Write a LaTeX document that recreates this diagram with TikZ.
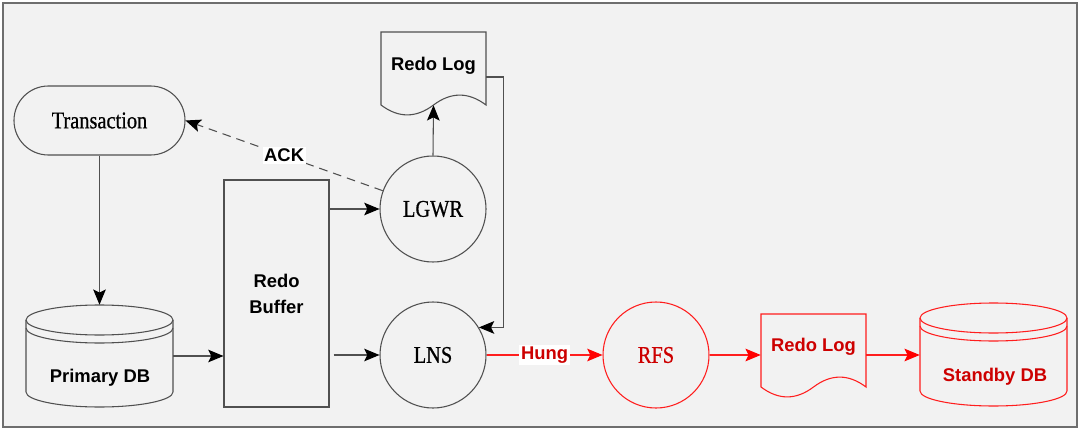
\documentclass[tikz,border=0pt]{standalone}
\usepackage{fontspec}
\setmainfont{Liberation Serif}
\newfontfamily\serifn[FakeStretch=0.85,FakeBold=0.6]{Liberation Serif}
\newfontfamily\sansf{Liberation Sans}
\usetikzlibrary{arrows.meta,calc}
\definecolor{lineg}{RGB}{80,80,80}
\definecolor{frameg}{RGB}{110,110,110}
\definecolor{bgg}{RGB}{242,242,242}
\definecolor{redl}{RGB}{255,30,30}
\definecolor{redt}{RGB}{205,0,0}
\begin{document}
\begin{tikzpicture}[x=0.75pt,y=-0.75pt,
  line/.style={draw=lineg, line width=0.8pt},
  rline/.style={draw=redl, line width=0.8pt},
  tip/.style={-{Stealth[length=11.5pt,width=9.5pt,inset=2.4pt,black]}},
  rtip/.style={-{Stealth[length=11.5pt,width=9.5pt,inset=2.4pt,red]}},
  arr/.style={line, tip, fill=none},
  rarr/.style={rline, rtip},
  serifl/.style={font=\serifn\fontsize{18}{20}\selectfont},
  lbl/.style={font=\sansf\bfseries\fontsize{13.8}{19.5}\selectfont},
  proc/.style={circle, line, minimum size=79.5pt, inner sep=0pt, serifl},
  rproc/.style={circle, rline, minimum size=79.5pt, inner sep=0pt, serifl, text=redt},
  docbox/.style={inner sep=0pt, minimum width=78.75pt, minimum height=63pt},
  cylbox/.style={inner sep=0pt, minimum width=110.25pt, minimum height=76.5pt},
  tagbox/.style={lbl, fill=white, inner sep=1.2pt}
]
\useasboundingbox (0,0) rectangle (1080,431);
\fill[white] (0,0) rectangle (1080,431);
\draw[draw=frameg, fill=bgg, line width=1.3pt] (3,3) rectangle (1077,427);

% Transaction
\node[line, rounded corners=25.8pt, minimum width=128.25pt, minimum height=51.75pt, inner sep=0pt, serifl] (tran) at (99.5,120.5) {Transaction};

% Primary DB cylinder
\node[cylbox] (pdb) at (99.5,356) {};
\draw[line] (26,320) -- (26,392) arc[start angle=180,end angle=360,x radius=55.125pt,y radius=11.25pt] -- (173,320);
\draw[line] (99.5,320) ellipse [x radius=55.125pt, y radius=11.25pt];
\draw[line] (26,328) arc[start angle=180,end angle=360,x radius=55.125pt,y radius=11.25pt];
\node[lbl] (pdbt) at (100,378) {Primary DB};

% Redo Buffer
\node[line, minimum width=78.75pt, minimum height=170.25pt, inner sep=0pt, align=center, lbl] (buf) at (276.5,293.5) {Redo\\Buffer};

% LGWR, LNS
\node[proc] (lgwr) at (433,209) {LGWR};
\node[proc] (lns) at (433,355) {LNS};

% Redo Log (top)
\node[docbox] (rlog) at (433.5,74) {};
\begin{scope}[shift={(381,32)}]
\draw[line] (0,0) -- (105,0) -- (105,73) .. controls (87.5,59.8) and (70,59.8) .. (52.5,73) .. controls (35,86.2) and (17.5,86.2) .. (0,73) -- cycle;
\end{scope}
\node[lbl] (rlogt) at (433.5,66) {Redo Log};
\coordinate (rlogb) at ($(rlog.south)+(0,-11)$);

% RFS
\node[rproc] (rfs) at (656,355) {RFS};

% Redo Log (red)
\node[docbox] (rlog2) at (813.5,356) {};
\begin{scope}[shift={(761,314)}]
\draw[rline] (0,0) -- (105,0) -- (105,73) .. controls (87.5,59.8) and (70,59.8) .. (52.5,73) .. controls (35,86.2) and (17.5,86.2) .. (0,73) -- cycle;
\end{scope}
\node[lbl, text=redt] (rlog2t) at (813.5,347) {Redo Log};

% Standby DB
\node[cylbox] (sdb) at (993.5,354.5) {};
\draw[rline] (920,318) -- (920,391) arc[start angle=180,end angle=360,x radius=55.125pt,y radius=11.25pt] -- (1067,318);
\draw[rline] (993.5,318) ellipse [x radius=55.125pt, y radius=11.25pt];
\draw[rline] (920,326) arc[start angle=180,end angle=360,x radius=55.125pt,y radius=11.25pt];
\node[lbl, text=redt] (sdbt) at (995,377) {Standby DB};

% connectors
\draw[arr] (tran.south) -- (pdb.north);
\draw[arr] (pdb.east) -- (buf.west |- pdb.east);
\draw[arr] (buf.east |- lgwr.west) -- (lgwr.west);
\draw[arr, shorten <=3pt] (buf.east |- lns.west) -- (lns.west);
\draw[arr] (lgwr.north) -- (rlogb);
\coordinate (vx) at (503.5,0);
\draw[arr] ([yshift=-2.25pt]rlog.east) -| (vx |- lns.31) -- (lns.31);
\draw[arr, dash pattern=on 6.5pt off 4.5pt] (lgwr.160) -- (tran.east) node[tagbox, midway] {ACK};
\draw[rarr] (lns.east) -- (rfs.west) node[tagbox, midway, text=redt] {Hung};
\draw[rarr] (rfs.east) -- (rlog2.west |- rfs.east);
\draw[rarr] (rlog2.east |- rfs.east) -- (sdb.west |- rfs.east);
\end{tikzpicture}
\end{document}
